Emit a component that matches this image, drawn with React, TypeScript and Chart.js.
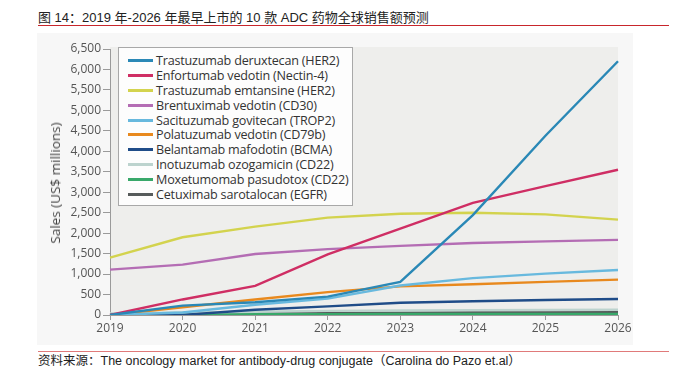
import React, { useEffect, useRef } from "react";
import { Chart, registerables } from "chart.js";
Chart.register(...registerables);

const years = ["2019", "2020", "2021", "2022", "2023", "2024", "2025", "2026"];
const seriesNames = [
  "Trastuzumab deruxtecan (HER2)",
  "Enfortumab vedotin (Nectin-4)",
  "Trastuzumab emtansine (HER2)",
  "Brentuximab vedotin (CD30)",
  "Sacituzumab govitecan (TROP2)",
  "Polatuzumab vedotin (CD79b)",
  "Belantamab mafodotin (BCMA)",
  "Inotuzumab ozogamicin (CD22)",
  "Moxetumomab pasudotox (CD22)",
  "Cetuximab sarotalocan (EGFR)",
];
const seriesColors = [
  "#2a88b6",
  "#cf2e64",
  "#d3d34e",
  "#b46db4",
  "#68b9de",
  "#e8891e",
  "#1f4c88",
  "#bcd3ce",
  "#38a86a",
  "#565b5b",
];
const deruxtecan = [0, 230, 310, 450, 810, 2440, 4380, 6200];
const enfortumab = [0, 380, 710, 1480, 2110, 2740, 3150, 3550];
const emtansine = [1400, 1900, 2160, 2380, 2475, 2500, 2460, 2330];
const brentuximab = [1110, 1230, 1490, 1610, 1690, 1760, 1800, 1835];
const sacituzumab = [0, 60, 250, 400, 720, 900, 1010, 1100];
const polatuzumab = [0, 190, 380, 560, 700, 750, 810, 865];
const belantamab = [0, 0, 130, 210, 300, 335, 365, 390];
const inotuzumab = [40, 60, 80, 100, 110, 120, 125, 130];
const moxetumomab = [10, 15, 20, 20, 25, 25, 25, 25];
const cetuximab = [null, 20, 35, 45, 55, 60, 65, 70];
const seriesValues = [
  deruxtecan,
  enfortumab,
  emtansine,
  brentuximab,
  sacituzumab,
  polatuzumab,
  belantamab,
  inotuzumab,
  moxetumomab,
  cetuximab,
];
const yMax = 6500;
const yStep = 500;

const FONT = "'Open Sans', 'DejaVu Sans', sans-serif";
const CN_FONT = "'Liberation Sans', 'Noto Sans CJK SC', sans-serif";

const plotBg = {
  id: "plotBg",
  beforeDraw(chart: any) {
    const { ctx, chartArea } = chart;
    ctx.save();
    ctx.fillStyle = "#eeeeec";
    ctx.fillRect(
      chartArea.left,
      chartArea.top - 2,
      chartArea.right - chartArea.left,
      chartArea.bottom - chartArea.top + 2
    );
    ctx.restore();
  },
};

function LineChart() {
  const ref = useRef<HTMLCanvasElement>(null);
  useEffect(() => {
    if (!ref.current) return;
    const chart = new Chart(ref.current, {
      type: "line",
      data: {
        labels: years,
        datasets: seriesNames.map((name, i) => ({
          label: name,
          data: seriesValues[i],
          borderColor: seriesColors[i],
          backgroundColor: seriesColors[i],
          borderWidth: 2.4,
          pointRadius: 0,
          tension: 0,
          fill: false,
        })),
      },
      options: {
        responsive: false,
        animation: false,
        layout: { padding: { left: 0, right: 15, top: 16, bottom: 0 } },
        plugins: { legend: { display: false }, tooltip: { enabled: false } },
        scales: {
          x: {
            type: "category",
            offset: false,
            grid: {
              display: true,
              drawOnChartArea: false,
              drawTicks: true,
              tickLength: 5,
              color: "#9a9a9a",
            },
            border: { color: "#9a9a9a", width: 1 },
            ticks: {
              color: "#555",
              font: { family: FONT, size: 12 },
              padding: 1,
              maxRotation: 0,
            },
            afterFit: (s: any) => {
              s.height = 30;
            },
          },
          y: {
            min: 0,
            max: yMax,
            grid: {
              display: true,
              drawOnChartArea: false,
              drawTicks: true,
              tickLength: 7,
              color: "#9a9a9a",
            },
            border: { color: "#9a9a9a", width: 1 },
            ticks: {
              stepSize: yStep,
              color: "#555",
              font: { family: FONT, size: 12 },
              padding: 2,
              callback: (v: any) => Number(v).toLocaleString("en-US"),
            },
            afterFit: (s: any) => {
              s.width = 73;
            },
          },
        },
      },
      plugins: [plotBg],
    });
    return () => chart.destroy();
  }, []);
  return <canvas ref={ref} width={596} height={312} style={{ display: "block" }} />;
}

export default function App() {
  return (
    <div style={{ position: "absolute", left: 0, top: 0, width: 679, height: 386, background: "#fff" }}>
      <div
        style={{
          position: "absolute",
          left: 38,
          top: 9,
          fontFamily: CN_FONT,
          fontSize: 13,
          color: "#222",
          whiteSpace: "nowrap",
          lineHeight: "17px",
        }}
      >
        图 14：2019 年-2026 年最早上市的 10 款 ADC 药物全球销售额预测
      </div>
      <div style={{ position: "absolute", left: 38, top: 25, width: 631, height: 1, background: "#c8262c" }} />
      <div style={{ position: "absolute", left: 37, top: 33, width: 596, height: 312, background: "#f7f7f7" }}>
        <LineChart />
        <div
          style={{
            position: "absolute",
            left: 18,
            top: 150,
            width: 0,
            height: 0,
          }}
        >
          <div
            style={{
              position: "absolute",
              left: 0,
              top: 0,
              transform: "translate(-50%, -50%) rotate(-90deg)",
              fontFamily: FONT,
              fontSize: 13.5,
              color: "#444",
              whiteSpace: "nowrap",
            }}
          >
            Sales (US$ millions)
          </div>
        </div>
        <div
          style={{
            position: "absolute",
            left: 81,
            top: 14,
            width: 235,
            height: 159,
            background: "#fdfdfd",
            border: "1px solid #a8a8a8",
            boxSizing: "border-box",
            paddingTop: 5,
            overflow: "hidden",
          }}
        >
          {seriesNames.map((name, i) => (
            <div
              key={name}
              style={{ display: "flex", alignItems: "center", height: 14.9, whiteSpace: "nowrap" }}
            >
              <div
                style={{ marginLeft: 9, width: 25, height: 3, flexShrink: 0, background: seriesColors[i] }}
              />
              <div
                style={{
                  marginLeft: 3,
                  fontFamily: FONT,
                  fontSize: 12.6,
                  color: "#333",
                  lineHeight: "15px",
                  letterSpacing: -0.2,
                }}
              >
                {name}
              </div>
            </div>
          ))}
        </div>
      </div>
      <div style={{ position: "absolute", left: 38, top: 351, width: 631, height: 1, background: "#e07a7a" }} />
      <div
        style={{
          position: "absolute",
          left: 38,
          top: 353,
          fontFamily: CN_FONT,
          fontSize: 12.5,
          color: "#222",
          whiteSpace: "nowrap",
          lineHeight: "17px",
        }}
      >
        资料来源：The oncology market for antibody-drug conjugate（Carolina do Pazo et.al）
      </div>
    </div>
  );
}
